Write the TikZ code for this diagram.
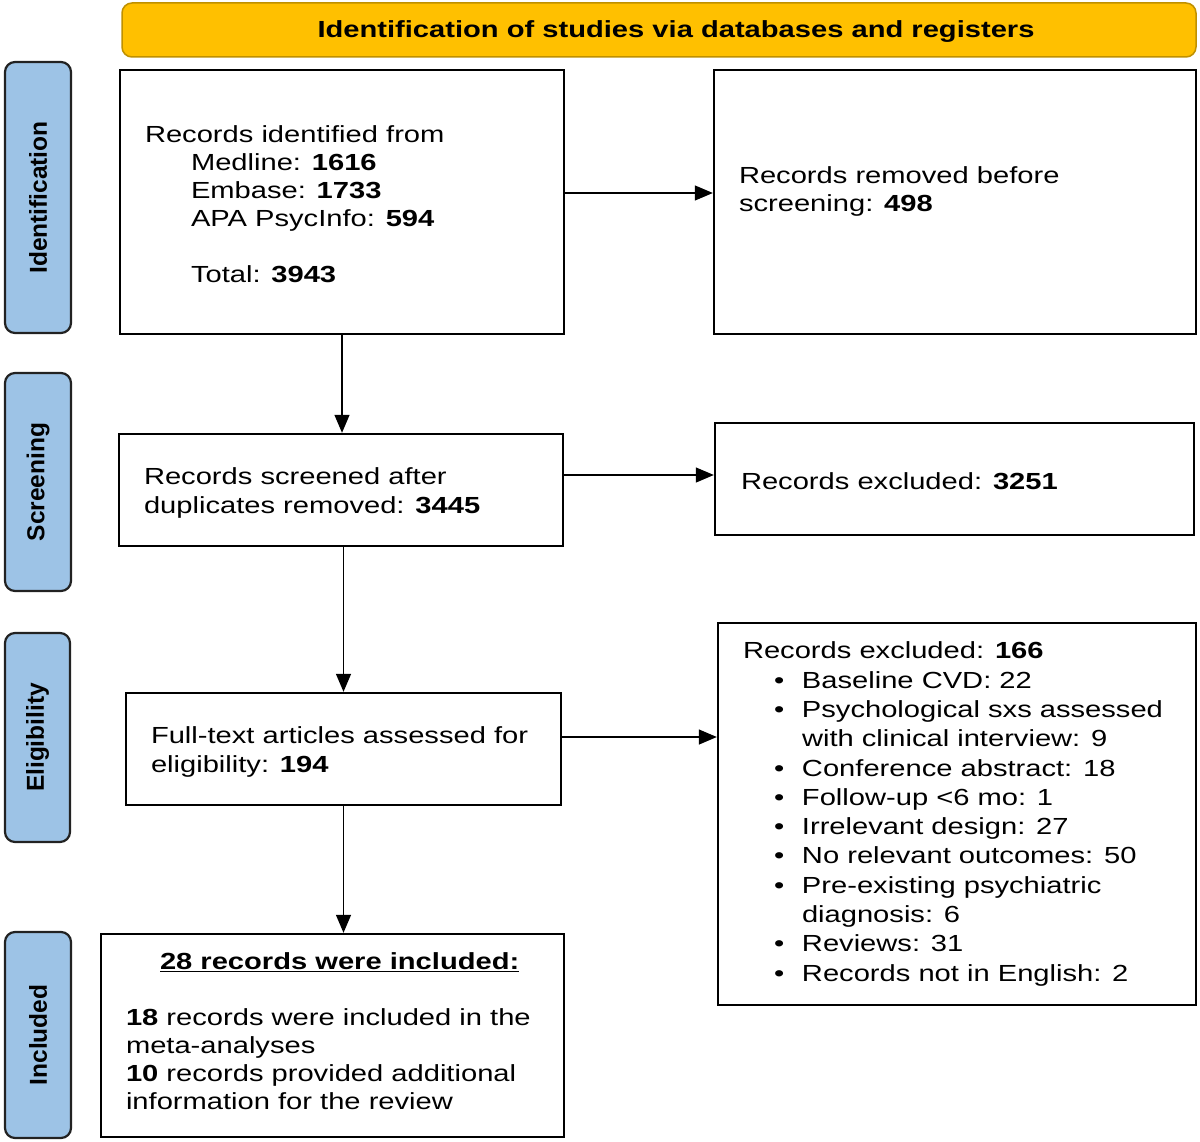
\documentclass[tikz,border=0pt]{standalone}
\usepackage{fontspec}
\setmainfont{Liberation Sans}[FakeStretch=1.25]
\newfontfamily\sidefont{Liberation Sans}
\usetikzlibrary{arrows.meta,calc}
\definecolor{bannerfill}{HTML}{FFC000}
\definecolor{bannerdraw}{HTML}{BF9000}
\definecolor{sidefill}{HTML}{9DC3E6}
\definecolor{sidedraw}{HTML}{222222}
\newcommand\bodyfont{\fontsize{23.3}{28}\selectfont}
\newcommand\bul{\hspace*{31pt}\makebox[28pt][l]{•}}
\newcommand\cont{\hspace*{59pt}}
\begin{document}
\begin{tikzpicture}[x=1pt,y=-1pt,
  box/.style={draw=black, line width=2.4pt, inner sep=0pt},
  txt/.style={font=\bodyfont, align=left, inner sep=0pt, anchor=west},
  side/.style={draw=sidedraw, fill=sidefill, line width=2.2pt, rounded corners=10pt, rotate=90,
    font=\sidefont\bfseries\fontsize{24.5}{28}\selectfont, inner sep=0pt},
  banner/.style={draw=bannerdraw, fill=bannerfill, line width=1.5pt, rounded corners=10pt, inner sep=0pt},
  arr/.style={-{Triangle[length=18pt,width=15pt]}, line width=1.4pt}]
\useasboundingbox (0,0) rectangle (1200,1142);

% banner
\node[banner, minimum width=1074pt, minimum height=54pt] (ban) at (659,30) {};
\node[font=\bodyfont\bfseries, inner sep=0pt] (bantxt) at (676,31.5) {Identification of studies via databases and registers};

% side labels
\node[side, minimum width=271pt, minimum height=66pt] (s1) at (38,197.5) {Identification};
\node[side, minimum width=218pt, minimum height=66pt] (s2) at (38,482) {Screening};
\node[side, minimum width=209pt, minimum height=65pt] (s3) at (37.5,737.5) {Eligibility};
\node[side, minimum width=206pt, minimum height=66pt] (s4) at (38,1035) {Included};

% boxes
\node[box, minimum width=444pt, minimum height=264pt] (b1) at (342,202) {};
\node[txt] (t1) at ([xshift=26pt,yshift=-2pt]b1.west) {Records identified from\\
  \hspace*{46pt}Medline: \textbf{1616}\\
  \hspace*{46pt}Embase: \textbf{1733}\\
  \hspace*{46pt}APA PsycInfo: \textbf{594}\\[28pt]
  \hspace*{46pt}Total: \textbf{3943}};

\node[box, minimum width=482pt, minimum height=264pt] (b2) at (955,202) {};
\node[txt, anchor=north west] (t2) at ([xshift=26pt,yshift=-98pt]b2.north west) {Records removed before\\screening: \textbf{498}};

\node[box, minimum width=444pt, minimum height=112pt] (b3) at (341,490) {};
\node[txt, font=\fontsize{23.3}{29.5}\selectfont] (t3) at ([xshift=26pt,yshift=-3pt]b3.west) {Records screened after\\duplicates removed: \textbf{3445}};

\node[box, minimum width=479pt, minimum height=112pt] (b4) at (954.5,479) {};
\node[txt] (t4) at ([xshift=27pt,yshift=-2pt]b4.west) {Records excluded: \textbf{3251}};

\node[box, minimum width=435pt, minimum height=112pt] (b5) at (343.5,749) {};
\node[txt, font=\fontsize{23.3}{29.5}\selectfont] (t5) at ([xshift=26pt,yshift=-3pt]b5.west) {Full-text articles assessed for\\eligibility: \textbf{194}};

\node[box, minimum width=478pt, minimum height=382pt] (b6) at (957,814) {};
\node[txt, font=\fontsize{23.3}{29.3}\selectfont] (t6) at ([xshift=26pt]b6.west) {Records excluded: \textbf{166}\\
  \bul Baseline CVD: 22\\
  \bul Psychological sxs assessed\\
  \cont with clinical interview: 9\\
  \bul Conference abstract: 18\\
  \bul Follow-up <6 mo: 1\\
  \bul Irrelevant design: 27\\
  \bul No relevant outcomes: 50\\
  \bul Pre-existing psychiatric\\
  \cont diagnosis: 6\\
  \bul Reviews: 31\\
  \bul Records not in English: 2};

\node[box, minimum width=463pt, minimum height=203pt] (b7) at (332.5,1035.5) {};
\node[txt] (t7) at ([xshift=26pt,yshift=4pt]b7.west) {\hspace*{34pt}\underline{\textbf{28 records were included:}}\\[28pt]
  \textbf{18} records were included in the\\
  meta-analyses\\
  \textbf{10} records provided additional\\
  information for the review};

% connectors
\draw[arr] ([yshift=9pt]b1.east) -- ([yshift=9pt]b1.east -| b2.west);
\draw[arr] (b1.south) -- (b1.south |- b3.north);
\draw[arr] ([yshift=15pt]b3.east) -- ([yshift=15pt]b3.east -| b4.west);
\draw[arr] (b5.north |- b3.south) -- (b5.north);
\draw[arr] ([yshift=12pt]b5.east) -- ([yshift=12pt]b5.east -| b6.west);
\draw[arr] (b5.south) -- (b5.south |- b7.north);
\end{tikzpicture}
\end{document}
